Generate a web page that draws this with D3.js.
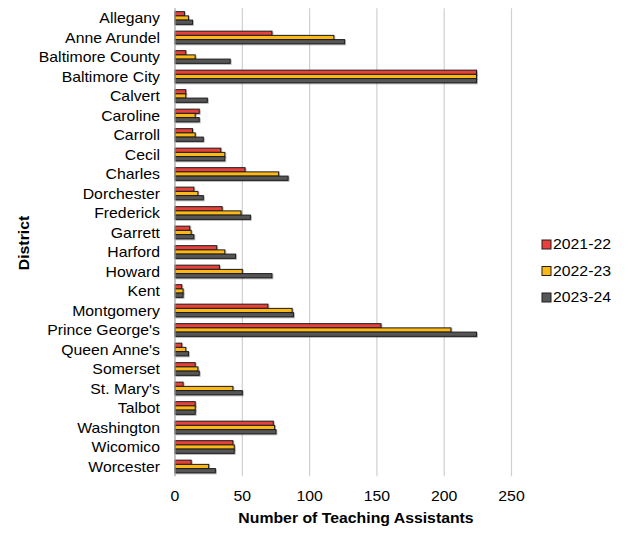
<!DOCTYPE html>
<html>
<head>
<meta charset="utf-8">
<script src="https://cdn.jsdelivr.net/npm/d3@7"></script>
<style>
  html, body { margin: 0; padding: 0; background: #fff; }
  text { font-family: "Liberation Sans", Arial, Helvetica, sans-serif; fill: #000; }
</style>
</head>
<body>
<svg id="chart" width="628" height="533"></svg>
<script>
// Teaching assistants by Maryland school district, three school years
const districts = ["Allegany", "Anne Arundel", "Baltimore County", "Baltimore City", "Calvert",
  "Caroline", "Carroll", "Cecil", "Charles", "Dorchester", "Frederick", "Garrett", "Harford",
  "Howard", "Kent", "Montgomery", "Prince George's", "Queen Anne's", "Somerset", "St. Mary's",
  "Talbot", "Washington", "Wicomico", "Worcester"];
const seriesNames = ["2021-22", "2022-23", "2023-24"];
const values2021 = [7, 72, 8, 224, 8, 18, 13, 34, 52, 14, 35, 11, 31, 33, 5, 69, 153, 5, 15, 6, 15, 73, 43, 12];
const values2022 = [10, 118, 15, 224, 8, 15, 15, 37, 77, 17, 49, 12, 37, 50, 6, 87, 205, 8, 17, 43, 15, 74, 44, 25];
const values2023 = [13, 126, 41, 224, 24, 18, 21, 37, 84, 21, 56, 14, 45, 72, 6, 88, 224, 10, 18, 50, 15, 75, 44, 30];
const xTicks = [0, 50, 100, 150, 200, 250];
const seriesColors = ["#e8403a", "#fdb813", "#575757"];

const seriesValues = [values2021, values2022, values2023];
const rows = districts.map((d, i) => ({ district: d, vals: seriesValues.map(s => s[i]) }));

const svg = d3.select("#chart");
const plot = { left: 175, right: 511.5, top: 8.25, bottom: 476.25 };
const sx = 1.13; // horizontal stretch applied to all text

const x = d3.scaleLinear().domain([0, 250]).range([plot.left, plot.right]);
const y0 = d3.scaleBand().domain(districts).range([plot.top, plot.bottom])
  .paddingInner(0.35).paddingOuter(0.175);
const y1 = d3.scaleBand().domain(d3.range(seriesNames.length)).range([0, y0.bandwidth()]);

// soft shadow under bars
const defs = svg.append("defs");
const f = defs.append("filter").attr("id", "shadow").attr("x", "-10%").attr("y", "-50%")
  .attr("width", "130%").attr("height", "250%");
f.append("feDropShadow").attr("dx", 0.8).attr("dy", 0.8).attr("stdDeviation", 0.7)
  .attr("flood-color", "#000").attr("flood-opacity", 0.35);

// vertical gridlines
svg.append("g").selectAll("line").data(xTicks.filter(t => t > 0)).join("line")
  .attr("x1", d => x(d)).attr("x2", d => x(d))
  .attr("y1", plot.top).attr("y2", plot.bottom)
  .attr("stroke", "#d0d0d0").attr("stroke-width", 1.2);

// bars
const groups = svg.append("g").selectAll("g").data(rows).join("g")
  .attr("transform", d => `translate(0,${y0(d.district)})`);
groups.selectAll("rect").data(d => d.vals.map((v, k) => ({ v, k }))).join("rect")
  .attr("x", x(0))
  .attr("y", d => y1(d.k))
  .attr("width", d => x(d.v) - x(0))
  .attr("height", y1.bandwidth())
  .attr("fill", d => seriesColors[d.k])
  .attr("stroke", "#1e1e1e").attr("stroke-width", 1)
  .attr("filter", "url(#shadow)");

// y axis line
svg.append("line").attr("x1", x(0)).attr("x2", x(0)).attr("y1", plot.top).attr("y2", plot.bottom)
  .attr("stroke", "#a0a0a0").attr("stroke-width", 1.2);

// category labels
svg.append("g").selectAll("text").data(districts).join("text")
  .attr("transform", d => `translate(160,${y0(d) + y0.bandwidth() / 2 + 5}) scale(${sx},1)`)
  .attr("text-anchor", "end").attr("font-size", 14)
  .text(d => d);

// x tick labels
svg.append("g").selectAll("text").data(xTicks).join("text")
  .attr("transform", d => `translate(${x(d)},500.5) scale(${sx},1)`)
  .attr("text-anchor", "middle").attr("font-size", 14)
  .text(d => d);

// axis titles
svg.append("text")
  .attr("transform", `translate(356,522.5) scale(${sx},1)`)
  .attr("text-anchor", "middle").attr("font-size", 14).attr("font-weight", "bold")
  .text("Number of Teaching Assistants");
svg.append("text")
  .attr("transform", `translate(28.5,243) rotate(-90) scale(${sx},1)`)
  .attr("text-anchor", "middle").attr("font-size", 14).attr("font-weight", "bold")
  .text("District");

// legend
const legend = svg.append("g").selectAll("g").data(seriesNames).join("g")
  .attr("transform", (d, i) => `translate(542,${240 + i * 26.5})`);
legend.append("rect").attr("width", 9).attr("height", 9)
  .attr("fill", (d, i) => seriesColors[i]).attr("stroke", "#1e1e1e").attr("stroke-width", 1);
legend.append("text")
  .attr("transform", `translate(11,9) scale(${sx},1)`)
  .attr("font-size", 14).text(d => d);
</script>
</body>
</html>
